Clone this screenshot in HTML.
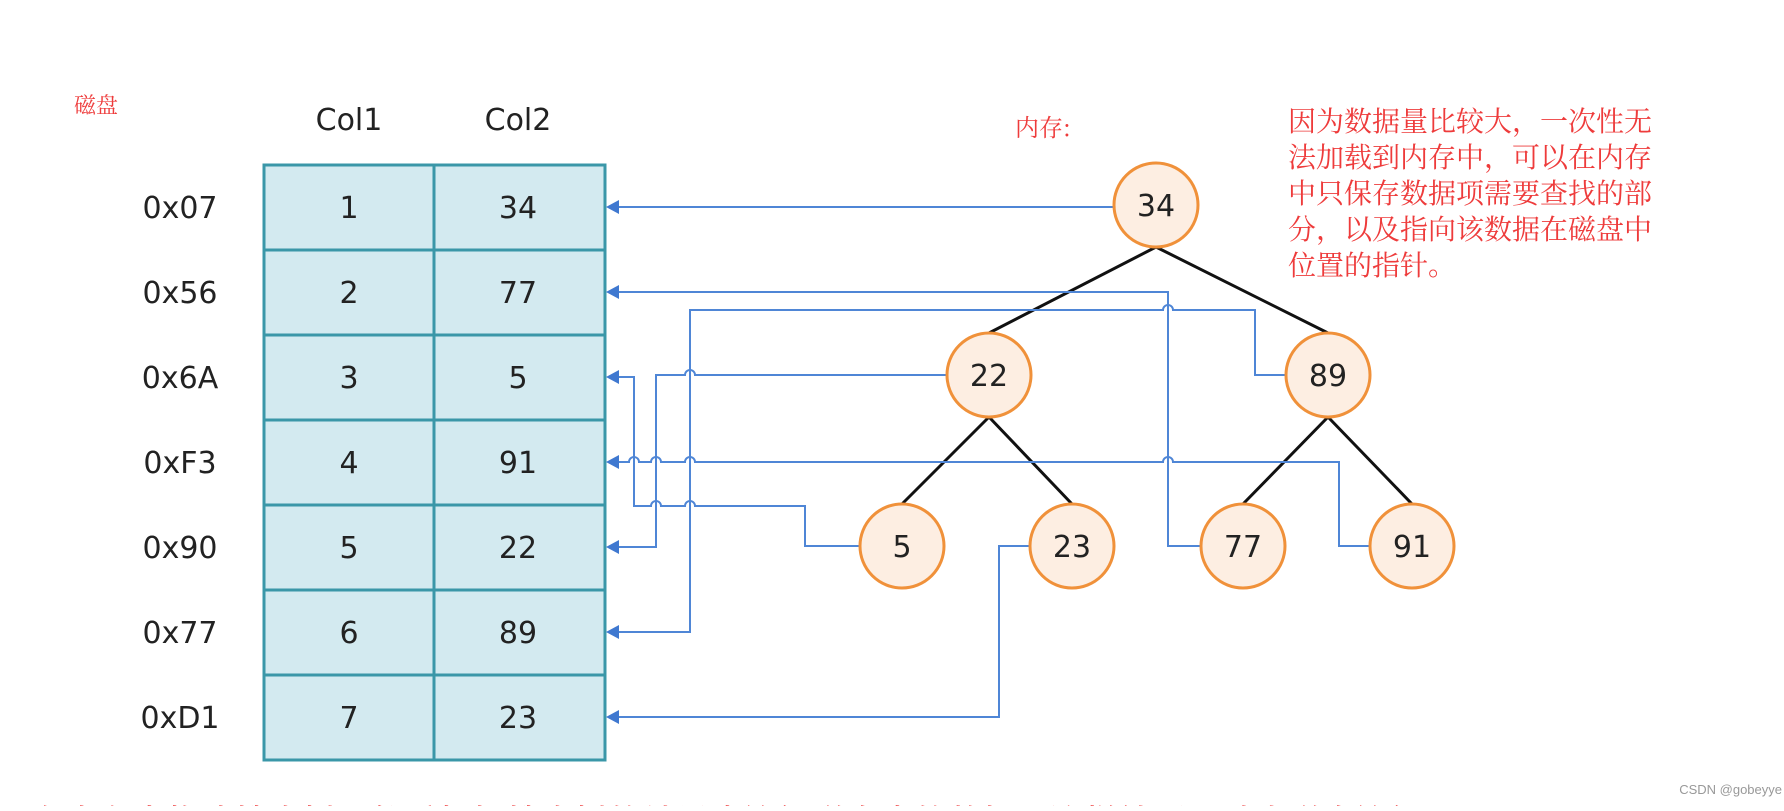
<!DOCTYPE html>
<html><head><meta charset="utf-8"><style>
html,body{margin:0;padding:0;background:#fff;}
body{width:1784px;height:806px;overflow:hidden;}
</style></head><body>
<svg width="1784" height="806" viewBox="0 0 1784 806" xmlns="http://www.w3.org/2000/svg">
<rect width="1784" height="806" fill="#fff"/>
<g font-family="'Noto Serif CJK SC','WenQuanYi Zen Hei',serif" fill="#ee3b3b">
<text x="74" y="113" font-size="22">磁盘</text>
<text x="1015" y="136" font-size="24">内存:</text>
<g font-size="28">
<text x="1288" y="131">因为数据量比较大，一次性无</text>
<text x="1288" y="167">法加载到内存中，可以在内存</text>
<text x="1288" y="203">中只保存数据项需要查找的部</text>
<text x="1288" y="239">分，以及指向该数据在磁盘中</text>
<text x="1288" y="275">位置的指针。</text>
</g>
<text x="30" y="834" font-size="34" fill="#ee3b3b">在内存中构建搜索树，然后根据搜索树的结果来访问磁盘中的数据，这样就可以减少磁盘访问</text>
</g>
<g font-family="'DejaVu Sans','Liberation Sans',sans-serif" fill="#222" text-anchor="middle">
<text x="349" y="130" font-size="30">Col1</text>
<text x="518" y="130" font-size="30">Col2</text>
<g font-size="30">
<text x="180" y="218">0x07</text><text x="180" y="303">0x56</text><text x="180" y="388">0x6A</text>
<text x="180" y="473">0xF3</text><text x="180" y="558">0x90</text><text x="180" y="643">0x77</text>
<text x="180" y="728">0xD1</text>
</g>
</g>
<g fill="#d3eaf0" stroke="#3a97a8" stroke-width="3">
<rect x="264" y="165" width="341" height="595"/>
<line x1="434" y1="165" x2="434" y2="760"/>
<line x1="264" y1="250" x2="605" y2="250"/><line x1="264" y1="335" x2="605" y2="335"/>
<line x1="264" y1="420" x2="605" y2="420"/><line x1="264" y1="505" x2="605" y2="505"/>
<line x1="264" y1="590" x2="605" y2="590"/><line x1="264" y1="675" x2="605" y2="675"/>
</g>
<g font-family="'DejaVu Sans','Liberation Sans',sans-serif" fill="#222" text-anchor="middle" font-size="30">
<text x="349" y="218">1</text><text x="518" y="218">34</text>
<text x="349" y="303">2</text><text x="518" y="303">77</text>
<text x="349" y="388">3</text><text x="518" y="388">5</text>
<text x="349" y="473">4</text><text x="518" y="473">91</text>
<text x="349" y="558">5</text><text x="518" y="558">22</text>
<text x="349" y="643">6</text><text x="518" y="643">89</text>
<text x="349" y="728">7</text><text x="518" y="728">23</text>
</g>
<g stroke="#111" stroke-width="3">
<line x1="1156" y1="247" x2="989" y2="333"/><line x1="1156" y1="247" x2="1328" y2="333"/>
<line x1="989" y1="417" x2="902" y2="504"/><line x1="989" y1="417" x2="1072" y2="504"/>
<line x1="1328" y1="417" x2="1243" y2="504"/><line x1="1328" y1="417" x2="1412" y2="504"/>
</g>
<g fill="none" stroke="#4f86d6" stroke-width="2">
<path d="M612 207 H1113"/>
<path d="M612 292 H1168 V546 H1200"/>
<path d="M612 632 H690 V310 H1163 a5 5 0 0 1 10 0 H1255 V375 H1286"/>
<path d="M612 547 H656 V375 H685 a5 5 0 0 1 10 0 H946"/>
<path d="M612 377 H634 V506 H651 a5 5 0 0 1 10 0 H685 a5 5 0 0 1 10 0 H805 V546 H859"/>
<path d="M612 462 H629 a5 5 0 0 1 10 0 H651 a5 5 0 0 1 10 0 H685 a5 5 0 0 1 10 0 H1163 a5 5 0 0 1 10 0 H1339 V546 H1369"/>
<path d="M612 717 H999 V546 H1029"/>
</g>
<g fill="#3f78d0">
<polygon points="606,207 619,200 619,214"/><polygon points="606,292 619,285 619,299"/>
<polygon points="606,377 619,370 619,384"/><polygon points="606,462 619,455 619,469"/>
<polygon points="606,547 619,540 619,554"/><polygon points="606,632 619,625 619,639"/>
<polygon points="606,717 619,710 619,724"/>
</g>
<g fill="#fdeee2" stroke="#f0913a" stroke-width="3">
<circle cx="1156" cy="205" r="42"/><circle cx="989" cy="375" r="42"/><circle cx="1328" cy="375" r="42"/>
<circle cx="902" cy="546" r="42"/><circle cx="1072" cy="546" r="42"/><circle cx="1243" cy="546" r="42"/><circle cx="1412" cy="546" r="42"/>
</g>
<g font-family="'DejaVu Sans','Liberation Sans',sans-serif" fill="#222" text-anchor="middle" font-size="30">
<text x="1156" y="216">34</text><text x="989" y="386">22</text><text x="1328" y="386">89</text>
<text x="902" y="557">5</text><text x="1072" y="557">23</text><text x="1243" y="557">77</text><text x="1412" y="557">91</text>
</g>
<text x="1782" y="794" text-anchor="end" font-family="'Liberation Sans',sans-serif" font-size="13" fill="#999">CSDN @gobeyye</text>
</svg>
</body></html>
